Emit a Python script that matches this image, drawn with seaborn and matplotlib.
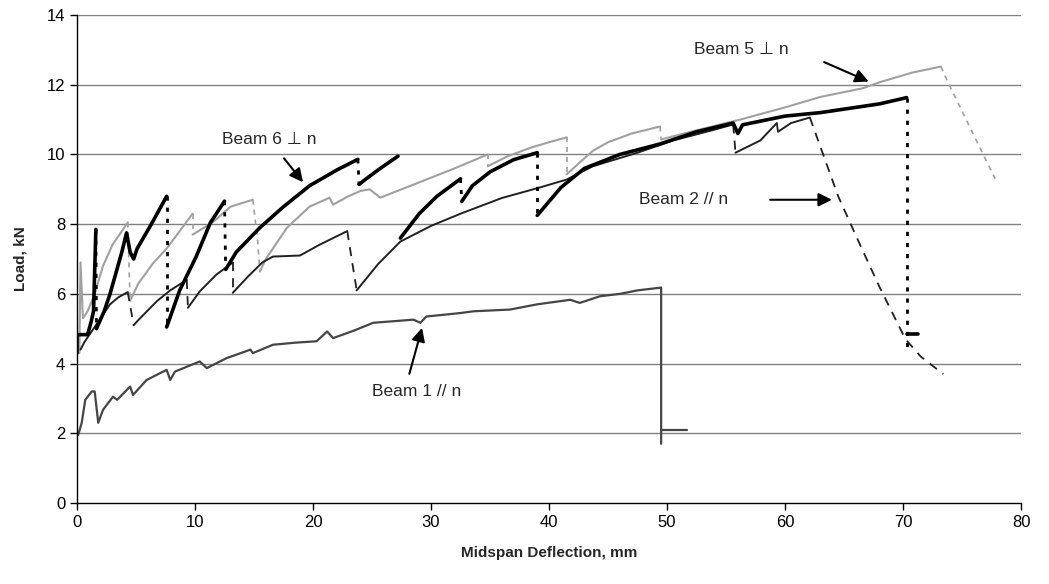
import seaborn as sns
import pandas as pd
import matplotlib.pyplot as plt

# ---- data (mm, kN); None = break between pieces ----
b1_x = [0.1, 0.4, 0.7, 1.25, 1.5, 1.8, 2.2, 3.05, 3.4, 4.5, 4.75, 5.9, 7.6, 7.9, 8.3, 10.4, 11.0,
        12.7, 14.7, 14.9, 16.6, 18.5, 20.3, 21.2, 21.7, 23.5, 25.1, 27.0, 28.5, 29.1, 29.6, 32.5,
        33.6, 36.7, 39.0, 41.8, 42.6, 44.3, 46.0, 47.5, 49.5, 49.5, None, 49.6, 51.7]
b1_y = [1.95, 2.3, 2.96, 3.2, 3.2, 2.3, 2.67, 3.05, 2.96, 3.34, 3.1, 3.53, 3.82, 3.53, 3.77, 4.06, 3.87,
        4.16, 4.4, 4.3, 4.54, 4.6, 4.64, 4.92, 4.73, 4.95, 5.17, 5.22, 5.26, 5.17, 5.35, 5.45,
        5.5, 5.55, 5.7, 5.83, 5.74, 5.93, 6.0, 6.1, 6.18, 1.7, None, 2.08, 2.08]

b2_x = [0.3, 0.6, 1.2, 2.0, 2.8, 3.5, 4.3, None,
        4.8, 5.2, 6.8, 7.9, 9.3, None,
        9.4, 10.4, 11.8, 13.2, None,
        13.2, 14.5, 15.7, 16.6, 18.9, 20.5, 22.9, None,
        23.7, 25.5, 27.4, 30.0, 32.5, 36.0, 39.2, 41.5, 43.7, 47.5, 50.5, 53.9, 55.6, None,
        55.8, 57.9, 59.3, None,
        59.4, 60.5, 62.1]
b2_y = [4.4, 4.6, 4.9, 5.3, 5.7, 5.9, 6.05, None,
        5.1, 5.25, 5.8, 6.1, 6.4, None,
        5.6, 6.07, 6.55, 6.9, None,
        6.03, 6.5, 6.9, 7.07, 7.1, 7.4, 7.8, None,
        6.1, 6.85, 7.5, 7.95, 8.3, 8.75, 9.05, 9.28, 9.66, 10.05, 10.4, 10.7, 10.86, None,
        10.05, 10.4, 10.9, None,
        10.65, 10.9, 11.06]
b2_drop_x = [4.3, 4.8, None, 9.3, 9.4, None, 13.2, 13.2, None, 22.9, 23.7, None, 55.6, 55.8, None,
             59.3, 59.4, None, 62.1, 64.5, 66.5, 68.0, 70.2, 71.5, 73.4]
b2_drop_y = [6.05, 5.1, None, 6.4, 5.6, None, 6.9, 6.03, None, 7.8, 6.1, None, 10.86, 10.05, None,
             10.9, 10.65, None, 11.06, 8.8, 7.3, 6.2, 4.7, 4.2, 3.7]

b5_x = [0.2, 0.3, 0.5, 0.9, 1.5, 2.2, 3.0, 3.8, 4.3, None,
        4.5, 5.2, 6.5, 7.6, 8.7, 9.8, None,
        9.8, 11.5, 13.0, 14.9, None,
        15.5, 16.0, 17.8, 19.7, 21.4, 21.7, 23.0, 24.0, 24.8, 25.7, 27.5, 29.6, 32.0, 34.8, None,
        34.8, 36.5, 38.5, 40.0, 41.5, None,
        41.5, 42.6, 43.7, 45.0, 47.0, 49.4, None,
        49.5, 52.0, 56.2, 60.0, 63.0, 66.6, 68.0, 70.8, 73.2]
b5_y = [4.3, 6.9, 5.3, 5.5, 6.0, 6.8, 7.4, 7.8, 8.05, None,
        5.8, 6.3, 6.9, 7.3, 7.8, 8.3, None,
        7.7, 8.05, 8.5, 8.7, None,
        6.64, 7.0, 7.9, 8.5, 8.76, 8.56, 8.8, 8.95, 9.0, 8.76, 9.0, 9.28, 9.6, 10.0, None,
        9.66, 9.95, 10.2, 10.35, 10.49, None,
        9.43, 9.77, 10.1, 10.35, 10.6, 10.8, None,
        10.43, 10.65, 11.0, 11.35, 11.65, 11.9, 12.07, 12.35, 12.52]
b5_drop_x = [4.3, 4.5, None, 9.8, 9.8, None, 14.9, 15.3, 15.5, None, 34.8, 34.8, None,
             41.5, 41.5, None, 49.4, 49.5, None, 73.2, 73.8, 77.8]
b5_drop_y = [8.05, 5.8, None, 8.3, 7.7, None, 8.7, 7.55, 6.64, None, 10.0, 9.66, None,
             10.49, 9.43, None, 10.8, 10.43, None, 12.52, 12.07, 9.3]

b6_x = [0.0, 0.0, 0.9, 1.2, 1.4, 1.6, None,
        1.65, 2.3, 2.8, 3.3, 3.8, 4.2, 4.5, 4.8, 5.1, 6.3, 7.6, None,
        7.6, 8.7, 10.1, 11.3, 12.5, None,
        12.6, 13.5, 15.5, 17.5, 19.7, 22.0, 23.8, None,
        23.9, 24.5, 25.7, 27.2, None,
        27.4, 29.0, 30.5, 32.5, None,
        32.6, 33.5, 35.0, 37.0, 39.0, None,
        39.0, 41.0, 43.0, 46.0, 49.4, 52.5, 55.6, 56.0, 56.4, 60.0, 63.0, 66.0, 68.0, 70.3, None,
        70.3, 71.3]
b6_y = [4.3, 4.83, 4.83, 5.2, 5.5, 7.85, None,
        5.0, 5.5, 6.0, 6.6, 7.2, 7.75, 7.2, 7.0, 7.3, 8.0, 8.8, None,
        5.05, 6.1, 7.07, 8.04, 8.66, None,
        6.7, 7.2, 7.9, 8.5, 9.1, 9.55, 9.86, None,
        9.14, 9.3, 9.6, 9.95, None,
        7.6, 8.3, 8.8, 9.3, None,
        8.65, 9.1, 9.5, 9.85, 10.05, None,
        8.25, 9.05, 9.6, 10.0, 10.3, 10.65, 10.9, 10.6, 10.85, 11.1, 11.2, 11.35, 11.45, 11.63, None,
        4.85, 4.85]
b6_drop_x = [1.6, 1.65, None, 7.6, 7.6, None, 12.5, 12.6, None, 23.8, 23.9, None,
             32.5, 32.6, None, 39.0, 39.0, None, 70.3, 70.3]
b6_drop_y = [7.85, 5.0, None, 8.8, 5.05, None, 8.66, 6.7, None, 9.86, 9.14, None,
             9.3, 8.65, None, 10.05, 8.25, None, 11.63, 4.4]


def pieces(xs, ys):
    rows, seg = [], 0
    for x, y in zip(xs, ys):
        if x is None:
            seg += 1
            continue
        rows.append((x, y, seg))
    return pd.DataFrame(rows, columns=["x", "y", "seg"])


sns.set_theme(style="white")
plt.rcParams["font.family"] = ["Liberation Sans", "DejaVu Sans"]

fig = plt.figure(figsize=(10.49, 5.84), dpi=100)
ax = fig.add_axes([0.0734, 0.1387, 0.9, 0.8356])

for y in range(2, 15, 2):
    ax.axhline(y, color="#808080", lw=1, zorder=0)

common = dict(x="x", y="y", units="seg", estimator=None, sort=False, ax=ax, legend=False)
sns.lineplot(data=pieces(b1_x, b1_y), color="#454545", lw=1.6, **common)
sns.lineplot(data=pieces(b5_x, b5_y), color="#a0a0a0", lw=1.5, **common)
sns.lineplot(data=pieces(b5_drop_x, b5_drop_y), color="#a0a0a0", lw=1.2, linestyle=(0, (3, 3)), **common)
sns.lineplot(data=pieces(b2_x, b2_y), color="#202020", lw=1.4, **common)
sns.lineplot(data=pieces(b2_drop_x, b2_drop_y), color="#202020", lw=1.3, linestyle=(0, (5, 4)), **common)
sns.lineplot(data=pieces(b6_x, b6_y), color="black", lw=2.6, **common)
sns.lineplot(data=pieces(b6_drop_x, b6_drop_y), color="black", lw=2.0, linestyle=(0, (1.5, 2.5)), **common)

arrow = dict(arrowstyle="-|>", color="black", lw=1.5, mutation_scale=20)
notes = [
    ("Beam 6 \u22a5 n", (16.3, 10.43), (17.4, 9.95), (19.3, 9.14)),
    ("Beam 5 \u22a5 n", (56.3, 13.0), (63.1, 12.68), (67.3, 12.06)),
    ("Beam 2 // n", (51.4, 8.7), (58.5, 8.7), (64.2, 8.7)),
    ("Beam 1 // n", (28.8, 3.2), (28.1, 3.63), (29.3, 5.1)),
]
for label, pos, start, tip in notes:
    ax.text(*pos, label, fontsize=12.5, ha="center", va="center")
    ax.annotate("", xy=tip, xytext=start, arrowprops=arrow)

ax.set_xlim(0, 80)
ax.set_ylim(0, 14)
ax.set_xticks(range(0, 81, 10))
ax.set_yticks(range(0, 15, 2))
ax.tick_params(labelsize=12, direction="out", length=5, width=1, colors="black", left=True, bottom=True)
for side in ["top", "right"]:
    ax.spines[side].set_visible(False)
for side in ["left", "bottom"]:
    ax.spines[side].set_color("black")
    ax.spines[side].set_linewidth(1)
ax.set_xlabel("Midspan Deflection, mm", fontsize=11, fontweight="bold", labelpad=12)
ax.set_ylabel("Load, kN", fontsize=11, fontweight="bold", labelpad=14)

plt.savefig("out.png", dpi=100)
